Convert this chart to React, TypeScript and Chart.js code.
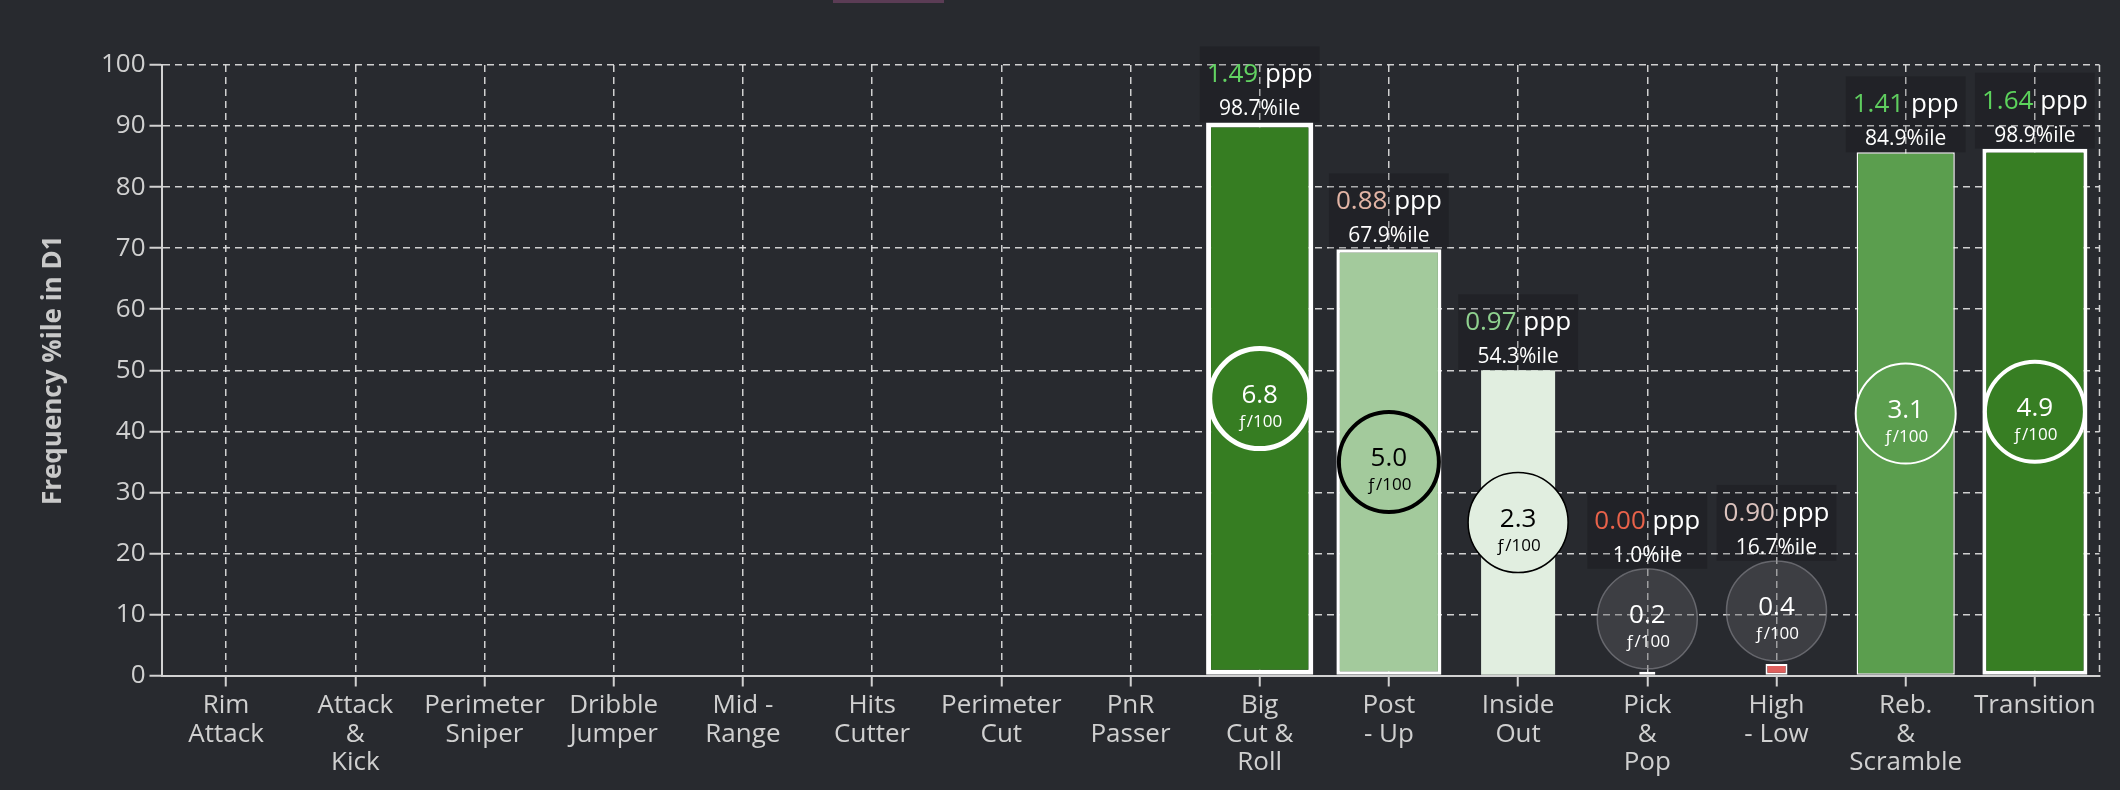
import React, { useEffect, useRef } from 'react';
import Chart from 'chart.js/auto';

// play types on the x axis (multi-line labels)
const categories: string[][] = [
    ['Rim', 'Attack'],
    ['Attack', '&', 'Kick'],
    ['Perimeter', 'Sniper'],
    ['Dribble', 'Jumper'],
    ['Mid -', 'Range'],
    ['Hits', 'Cutter'],
    ['Perimeter', 'Cut'],
    ['PnR', 'Passer'],
    ['Big', 'Cut &', 'Roll'],
    ['Post', '- Up'],
    ['Inside', 'Out'],
    ['Pick', '&', 'Pop'],
    ['High', '- Low'],
    ['Reb.', '&', 'Scramble'],
    ['Transition'],
];

// bar height: frequency percentile in D1
const freqPctile = [null, null, null, null, null, null, null, null, 90.6, 69.8, 50.0, 0.6, 1.9, 85.7, 86.3];
// possessions per 100 (circle label)
const freqPer100 = [null, null, null, null, null, null, null, null, 6.8, 5.0, 2.3, 0.2, 0.4, 3.1, 4.9];
// points per possession and its percentile
const ppp = [null, null, null, null, null, null, null, null, 1.49, 0.88, 0.97, 0.0, 0.9, 1.41, 1.64];
const pppPctile = [null, null, null, null, null, null, null, null, 98.7, 67.9, 54.3, 1.0, 16.7, 84.9, 98.9];

const yTicks = [0, 10, 20, 30, 40, 50, 60, 70, 80, 90, 100];

// styling per category
const barColors = [null, null, null, null, null, null, null, null, '#367d22', '#a3ca9c', '#e1eee0', '#d9534a', '#e0605e', '#5b9e4e', '#377e23'];
const barBorderWidths = [0, 0, 0, 0, 0, 0, 0, 0, 5, 3.5, 0, 1.5, 2, 1.5, 4];
const barWidthFrac = [0, 0, 0, 0, 0, 0, 0, 0, 0.83, 0.813, 0.573, 0.125, 0.17, 0.76, 0.813];
const circleFills = [null, null, null, null, null, null, null, null, '#367d22', '#a3ca9c', '#e1eee0', 'rgba(90,90,96,0.42)', 'rgba(90,90,96,0.42)', '#5b9e4e', '#377e23'];
const circleStrokes = [null, null, null, null, null, null, null, null, '#ffffff', '#000000', '#000000', 'rgba(140,140,146,0.6)', 'rgba(140,140,146,0.6)', '#ffffff', '#ffffff'];
const circleStrokeWidths = [0, 0, 0, 0, 0, 0, 0, 0, 5, 4, 1.5, 1.5, 1.5, 2, 4];
const circleTextColors = [null, null, null, null, null, null, null, null, '#ffffff', '#000000', '#000000', '#ffffff', '#ffffff', '#ffffff', '#ffffff'];
const pppColors = [null, null, null, null, null, null, null, null, '#62d262', '#e2b4a5', '#8fd18f', '#e8624a', '#dcc3be', '#5fcd5f', '#5cd35c'];

const FONT = "'Open Sans', sans-serif";
const BG = '#282a2f';
const GRID = 'rgba(222,222,222,0.92)';
const AXIS = '#d2d2d2';
const TICK = '#d0d0d0';
const R = 50;

Chart.defaults.font.family = FONT;

const overlayPlugin = {
    id: 'overlay',
    beforeDatasetsDraw(chart: any) {
        // dashed right edge of the plot
        const { ctx, chartArea } = chart;
        ctx.save();
        ctx.strokeStyle = GRID;
        ctx.lineWidth = 1.5;
        ctx.setLineDash([7, 5]);
        ctx.beginPath();
        ctx.moveTo(chartArea.right, chartArea.top);
        ctx.lineTo(chartArea.right, chartArea.bottom);
        ctx.stroke();
        ctx.restore();
    },
    afterDatasetsDraw(chart: any) {
        const { ctx } = chart;
        chart.data.datasets.forEach((ds: any, d: number) => {
            const i = ds.barIndex;
            const el = chart.getDatasetMeta(d).data[i];
            if (!el) return;
            const { x, y, base } = el.getProps(['x', 'y', 'base'], true);
            // centred in tall bars, sitting on top of short ones
            const cy = base - y >= 2 * (R + 3) ? (y + base) / 2 : y - R - 3;

            ctx.save();
            // frequency circle
            ctx.beginPath();
            ctx.arc(x, cy, R, 0, Math.PI * 2);
            ctx.fillStyle = circleFills[i];
            ctx.fill();
            ctx.lineWidth = circleStrokeWidths[i];
            ctx.strokeStyle = circleStrokes[i];
            ctx.stroke();
            ctx.fillStyle = circleTextColors[i];
            ctx.textAlign = 'center';
            ctx.textBaseline = 'alphabetic';
            ctx.font = `26px ${FONT}`;
            ctx.fillText((freqPer100[i] as number).toFixed(1), x, cy + 4);
            ctx.font = `17px ${FONT}`;
            ctx.fillText('ƒ/100', x, cy + 28);

            // ppp label box
            const anchor = Math.min(y, cy - R);
            ctx.font = `26px ${FONT}`;
            const num = (ppp[i] as number).toFixed(2);
            const unit = ' ppp';
            const wNum = ctx.measureText(num).width;
            const wUnit = ctx.measureText(unit).width;
            const boxW = wNum + wUnit + 14;
            ctx.fillStyle = 'rgba(0,0,0,0.17)';
            ctx.fillRect(x - boxW / 2, anchor - 76, boxW, 76);
            const sx = x - (wNum + wUnit) / 2;
            ctx.textAlign = 'left';
            ctx.fillStyle = pppColors[i];
            ctx.fillText(num, sx, anchor - 40);
            ctx.fillStyle = '#ffffff';
            ctx.fillText(unit, sx + wNum, anchor - 40);
            ctx.font = `21px ${FONT}`;
            ctx.textAlign = 'center';
            ctx.fillText((pppPctile[i] as number).toFixed(1) + '%ile', x, anchor - 7);
            ctx.restore();
        });
    },
};

const App: React.FC = () => {
    const canvasRef = useRef<HTMLCanvasElement>(null);

    useEffect(() => {
        if (!canvasRef.current) return;

        const datasets = categories
            .map((_, i) => i)
            .filter((i) => freqPctile[i] !== null)
            .map((i) => ({
                barIndex: i,
                data: categories.map((_, j) => (j === i ? freqPctile[i] : null)),
                backgroundColor: barColors[i],
                borderColor: '#ffffff',
                borderWidth: barBorderWidths[i],
                borderSkipped: false,
                barPercentage: barWidthFrac[i],
                categoryPercentage: 1,
                grouped: false,
            }));

        const chart = new Chart(canvasRef.current, {
            type: 'bar',
            data: { labels: categories, datasets: datasets as any },
            options: {
                responsive: true,
                maintainAspectRatio: false,
                animation: false,
                layout: { padding: { top: 65, right: 20.5, bottom: 0, left: 0 } },
                plugins: {
                    legend: { display: false },
                    tooltip: { enabled: false },
                },
                scales: {
                    x: {
                        offset: true,
                        grid: {
                            offset: false,
                            color: GRID,
                            lineWidth: 1.5,
                            drawTicks: true,
                            tickLength: 11,
                            tickColor: AXIS,
                            tickWidth: 2,
                        },
                        border: { display: true, color: AXIS, width: 2, dash: [7, 5] },
                        ticks: {
                            color: TICK,
                            font: { size: 26, lineHeight: 1.1 },
                            padding: 5,
                            maxRotation: 0,
                            autoSkip: false,
                        },
                        afterFit: (s: any) => {
                            s.height = 114.5;
                        },
                    },
                    y: {
                        min: yTicks[0],
                        max: yTicks[yTicks.length - 1],
                        afterBuildTicks: (s: any) => {
                            s.ticks = yTicks.map((v) => ({ value: v }));
                        },
                        grid: {
                            color: GRID,
                            lineWidth: 1.5,
                            drawTicks: true,
                            tickLength: 12,
                            tickColor: AXIS,
                            tickWidth: 2,
                        },
                        border: { display: true, color: AXIS, width: 2, dash: [7, 5] },
                        ticks: { color: TICK, font: { size: 26 }, padding: 4 },
                        title: {
                            display: true,
                            text: 'Frequency %ile in D1',
                            color: '#c9c9c9',
                            font: { size: 26, weight: 'bold' },
                            padding: { top: 38, bottom: 0 },
                        },
                        afterFit: (s: any) => {
                            s.width = 161.5;
                        },
                    },
                },
            },
            plugins: [overlayPlugin],
        });

        return () => {
            chart.destroy();
        };
    }, []);

    return (
        <div style={{ position: 'fixed', left: 0, top: 0, width: 2120, height: 790, background: BG }}>
            <div style={{ position: 'absolute', left: 833, top: 0, width: 111, height: 3, background: '#5b3c55' }} />
            <canvas ref={canvasRef}></canvas>
        </div>
    );
};

export default App;
